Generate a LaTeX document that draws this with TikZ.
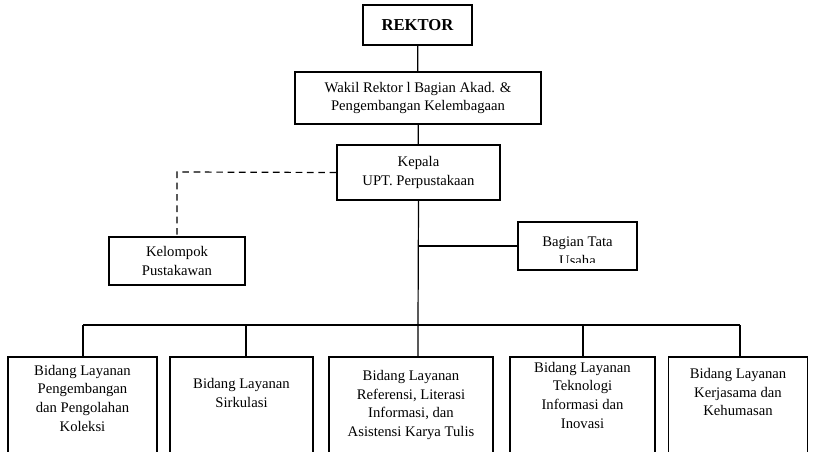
\documentclass[tikz,border=0pt]{standalone}
\usepackage{fontspec}
\setmainfont{Liberation Serif}
\tikzset{
    BOX/.style ={rectangle, draw=black, line width=1.1pt, inner sep=0pt},
    TXT/.style ={align=center, inner sep=0pt, font=\fontsize{11}{14}\selectfont},
    LN/.style ={line width=0.9pt},
    DS/.style ={line width=0.9pt, dash pattern=on 5pt off 3.5pt}
}
\begin{document}
\begin{tikzpicture}[x=0.75pt,y=-0.75pt]
        \clip (0,0) rectangle (816,452);
        \node[BOX, minimum width=81.75pt, minimum height=30pt, font=\bfseries\fontsize{12.5}{14}\selectfont] (rektor) at (417.5,25) {REKTOR};
        \node[BOX, TXT, minimum width=184.5pt, minimum height=39pt] (wakil) at (418,98) {Wakil Rektor l Bagian Akad. \&\\Pengembangan Kelembagaan};
        \node[BOX, TXT, minimum width=122.25pt, minimum height=41.25pt] (kepala) at (418.5,172.5) {Kepala\\UPT. Perpustakaan};
        \node[BOX, TXT, minimum width=102pt, minimum height=36pt] (kelompok) at (177,261) {Kelompok\\Pustakawan};
        \node[BOX, minimum width=89.25pt, minimum height=36pt] (tata) at (577.5,246) {};
        \begin{scope}
            \clip (tata.north west) rectangle ([yshift=6pt]tata.south east);
            \node[TXT] (tatatext) at (577.5,251) {Bagian Tata\\Usaha};
        \end{scope}
        % bidang
        \node[BOX, minimum width=111.75pt, minimum height=90pt] (b1) at (82.5,417) {};
        \node[BOX, minimum width=107.25pt, minimum height=90pt] (b2) at (241.5,417) {};
        \node[BOX, minimum width=123pt, minimum height=90pt] (b3) at (411,417) {};
        \node[BOX, minimum width=108.75pt, minimum height=90pt] (b4) at (582.5,417) {};
        \node[BOX, minimum width=104pt, minimum height=90pt] (b5) at (738,417) {};
        \node[TXT] (t1) at (82.5,398) {Bidang Layanan\\Pengembangan\\dan Pengolahan\\Koleksi};
        \node[TXT] (t2) at (241.5,393) {Bidang Layanan\\Sirkulasi};
        \node[TXT] (t3) at (411,405) {Bidang Layanan\\Referensi, Literasi\\Informasi, dan\\Asistensi Karya Tulis};
        \node[TXT] (t4) at (582.5,395) {Bidang Layanan\\Teknologi\\Informasi dan\\Inovasi};
        \node[TXT] (t5) at (738,392) {Bidang Layanan\\Kerjasama dan\\Kehumasan};
        % garis
        \coordinate (bus) at (418,325);
        \coordinate (dash) at (177,172);
        \draw[LN](rektor)--(wakil);
        \draw[LN](wakil)--(kepala);
        \draw[LN](kepala.south)--(bus)--(bus|-b3.north);
        \draw[LN](tata.west)--(tata.west-|bus);
        \draw[DS](kepala.west)--(dash)--(kelompok.north);
        \draw[LN](83,325)--(740,325);
        \draw[LN](83,325)--(b1.north-|83,0);
        \draw[LN](246,325)--(b2.north-|246,0);
        \draw[LN](583,325)--(b4.north-|583,0);
        \draw[LN](740,325)--(b5.north-|740,0);
\end{tikzpicture}
\end{document}
